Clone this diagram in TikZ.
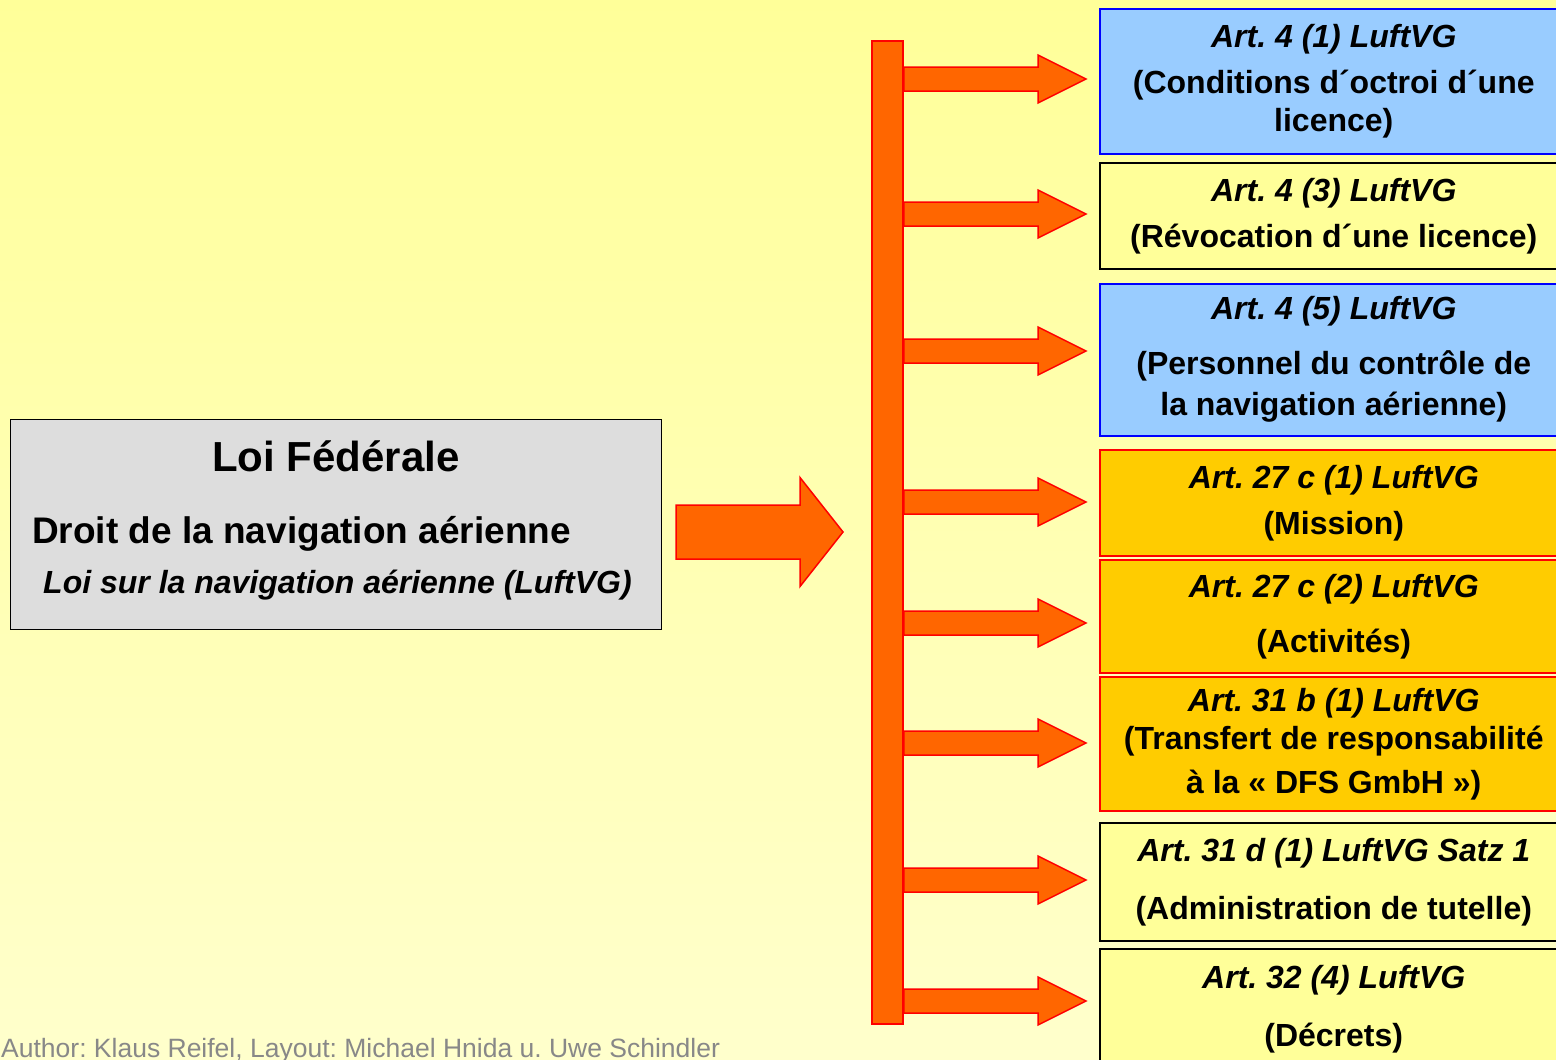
\documentclass[tikz,border=0pt]{standalone}
\usepackage{fontspec}
\setmainfont{Liberation Sans}
\usetikzlibrary{calc}

\definecolor{arroworange}{HTML}{FF6600}
\definecolor{boxblue}{HTML}{99CCFF}
\definecolor{boxyellow}{HTML}{FFFF99}
\definecolor{boxorange}{HTML}{FFCC00}
\definecolor{boxgray}{HTML}{DDDDDD}
\definecolor{bgtop}{HTML}{FFFF99}
\definecolor{bgbottom}{HTML}{FFFFCC}
\definecolor{authorgray}{HTML}{888888}

\frenchspacing

\tikzset{
  artbox/.style={rectangle, anchor=north west, minimum width=468pt, inner sep=0pt,
    align=center, line width=1.5pt, font=\fontsize{32}{38}\selectfont\bfseries},
  bluebox/.style={artbox, draw=blue, fill=boxblue},
  yellowbox/.style={artbox, draw=black, fill=boxyellow},
  orangebox/.style={artbox, draw=red, fill=boxorange},
  flowarrow/.style={fill=arroworange, draw=red, line width=1.5pt, line join=miter},
}

% block arrow: tail, tip, half shaft, half head, head length
\newcommand{\blockarrow}[5]{%
  \filldraw[flowarrow] ($(#1)+(0,-#3)$) -- ($(#2)+(-#5,-#3)$) -- ($(#2)+(-#5,-#4)$)
    -- (#2) -- ($(#2)+(-#5,#4)$) -- ($(#2)+(-#5,#3)$) -- ($(#1)+(0,#3)$) -- cycle;}

\begin{document}
\begin{tikzpicture}[x=1pt,y=-1pt]
  \useasboundingbox (0,0) rectangle (1556,1060);
  \shade[top color=bgtop, bottom color=bgbottom] (0,0) rectangle (1556,1060);

  % Loi
  \node[draw=black, fill=boxgray, line width=1.2pt, minimum width=651pt, minimum height=210pt,
    anchor=north west, inner sep=0pt] (loi) at (10,419) {};
  \node[anchor=base, inner sep=0pt, font=\fontsize{42}{50}\selectfont\bfseries] (loititle) at (336,471) {Loi Fédérale};
  \node[anchor=base west, inner sep=0pt, font=\fontsize{37}{44}\selectfont\bfseries] (droit) at (32,543) {Droit de la navigation aérienne};
  \node[anchor=base west, inner sep=0pt, font=\fontsize{32}{38}\selectfont\bfseries\itshape] (luftvg) at (43,593) {Loi sur la navigation aérienne (LuftVG)};

  \coordinate (bigtail) at (676,532);
  \coordinate (bigtip) at (843,532);
  \blockarrow{bigtail}{bigtip}{27}{54.5}{43}

  % Artikel
  \node[bluebox, minimum height=145pt] (b1) at (1099,8) {\textit{Art. 4 (1) LuftVG}\\[8pt] (Conditions d´octroi d´une\\ licence)};
  \node[yellowbox, minimum height=106pt] (b2) at (1099,162) {\textit{Art. 4 (3) LuftVG}\\[8pt] (Révocation d´une licence)};
  \node[bluebox, minimum height=152pt] (b3) at (1099,283) {\textit{Art. 4 (5) LuftVG}\\[17pt] (Personnel du contrôle de\\[3pt] la navigation aérienne)};
  \node[orangebox, minimum height=106pt] (b4) at (1099,449) {\textit{Art. 27 c (1) LuftVG}\\[8pt] (Mission)};
  \node[orangebox, minimum height=113pt] (b5) at (1099,559) {\textit{Art. 27 c (2) LuftVG}\\[17pt] (Activités)};
  \node[orangebox, minimum height=134pt] (b6) at (1099,676) {\textit{Art. 31 b (1) LuftVG}\\ (Transfert de responsabilité\\[6pt] à la « DFS GmbH »)};
  \node[yellowbox, minimum height=118pt] (b7) at (1099,822) {\textit{Art. 31 d (1) LuftVG Satz 1}\\[20pt] (Administration de tutelle)};
  \node[yellowbox, minimum height=120pt] (b8) at (1099,948) {\textit{Art. 32 (4) LuftVG}\\[20pt] (Décrets)};

  \node[rectangle, draw=red, fill=arroworange, line width=1.5pt, minimum width=31pt, minimum height=983pt,
    inner sep=0pt] (bar) at (887.5,532.5) {};

  \coordinate (t1) at (1086,79);
  \coordinate (t2) at (1086,214);
  \coordinate (t3) at (1086,351);
  \coordinate (t4) at (1086,502);
  \coordinate (t5) at (1086,623);
  \coordinate (t6) at (1086,743);
  \coordinate (t7) at (1086,880);
  \coordinate (t8) at (1086,1001);
  \blockarrow{bar.east |- t1}{t1}{12}{24}{48}
  \blockarrow{bar.east |- t2}{t2}{12}{24}{48}
  \blockarrow{bar.east |- t3}{t3}{12}{24}{48}
  \blockarrow{bar.east |- t4}{t4}{12}{24}{48}
  \blockarrow{bar.east |- t5}{t5}{12}{24}{48}
  \blockarrow{bar.east |- t6}{t6}{12}{24}{48}
  \blockarrow{bar.east |- t7}{t7}{12}{24}{48}
  \blockarrow{bar.east |- t8}{t8}{12}{24}{48}

  \node[anchor=base west, inner sep=0pt, text=authorgray, font=\fontsize{26.5}{32}\selectfont] (author) at (1,1057)
    {Author: Klaus Reifel, Layout: Michael Hnida u. Uwe Schindler};
\end{tikzpicture}
\end{document}
